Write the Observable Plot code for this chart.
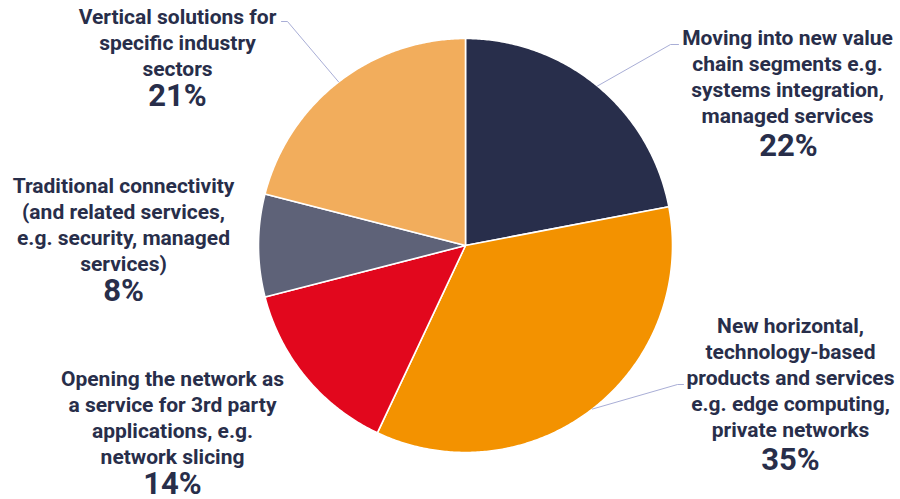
<!DOCTYPE html>
<html>
<head>
<meta charset="utf-8">
<script src="https://cdn.jsdelivr.net/npm/d3@7"></script>
<script src="https://cdn.jsdelivr.net/npm/@observablehq/plot@0.6"></script>
<style>
  html, body { margin: 0; padding: 0; background: #ffffff; }
  #chart svg { display: block; }
</style>
</head>
<body>
<div id="chart"></div>
<script>
// ---- Data ----
const categories = [
  "Moving into new value\nchain segments e.g.\nsystems integration,\nmanaged services",
  "New horizontal,\ntechnology-based\nproducts and services\ne.g. edge computing,\nprivate networks",
  "Opening the network as\na service for 3rd party\napplications, e.g.\nnetwork slicing",
  "Traditional connectivity\n(and related services,\ne.g. security, managed\nservices)",
  "Vertical solutions for\nspecific industry\nsectors"
];
const shares = [22, 35, 14, 8, 21];
const sliceColors = ["#282e4b", "#f39200", "#e2071d", "#5e6278", "#f2ad5c"];

// ---- Layout (pixel-like data space) ----
const W = 900, H = 499;
const cx = 465, cy = 245, R = 207;
// label block centres and percentage positions
const labelPos = [
  {x: 787, y: 75.5, px: 788, py: 146},
  {x: 790, y: 376.5, px: 790, py: 460},
  {x: 172, y: 416.5, px: 172, py: 484},
  {x: 123, y: 223.5, px: 123, py: 291},
  {x: 177, y: 41.5, px: 177, py: 96}
];
// leader elbows/ends (null = no leader)
const leaderPts = [
  [[670, 44], [678, 44]],
  [[677, 384], [683, 384]],
  null,
  null,
  [[287, 21], [281, 21]]
];

// ---- Geometry via d3.pie ----
const pie = d3.pie().sort(null).value(d => d)(shares);
const slicePts = [];
pie.forEach((a, i) => {
  slicePts.push({k: i, x: cx, y: cy});
  const n = Math.max(2, Math.ceil((a.endAngle - a.startAngle) / (Math.PI / 360)));
  for (let j = 0; j <= n; j++) {
    const t = a.startAngle + (a.endAngle - a.startAngle) * j / n;
    slicePts.push({k: i, x: cx + R * Math.sin(t), y: cy - R * Math.cos(t)});
  }
});

const leaders = [];
pie.forEach((a, i) => {
  if (!leaderPts[i]) return;
  const m = (a.startAngle + a.endAngle) / 2;
  leaders.push({k: i, x: cx + R * Math.sin(m), y: cy - R * Math.cos(m)});
  leaderPts[i].forEach(p => leaders.push({k: i, x: p[0], y: p[1]}));
});

const labels = categories.map((c, i) => ({
  text: c, pct: shares[i] + "%",
  x: labelPos[i].x, y: labelPos[i].y, px: labelPos[i].px, py: labelPos[i].py
}));

const chart = Plot.plot({
  width: W, height: H,
  margin: 0,
  x: {domain: [0, W], range: [0, W], axis: null},
  y: {domain: [0, H], range: [0, H], axis: null},
  color: {domain: d3.range(categories.length), range: sliceColors},
  style: {fontFamily: "Roboto, 'Noto Sans', sans-serif", background: "#ffffff"},
  marks: [
    Plot.line(slicePts, {x: "x", y: "y", z: "k", fill: "k", stroke: "#ffffff",
      strokeWidth: 1.6, curve: "linear-closed", strokeLinejoin: "round"}),
    Plot.line(leaders, {x: "x", y: "y", z: "k", stroke: "#a9aed6", strokeWidth: 1}),
    Plot.text(labels, {x: "x", y: "y", text: "text", fill: "#282e4a",
      fontSize: 21, fontWeight: 700, lineHeight: 1.24, textAnchor: "middle", lineAnchor: "middle"}),
    Plot.text(labels, {x: "px", y: "py", text: "pct", fill: "#282e4a",
      fontSize: 31, fontWeight: 700, textAnchor: "middle", lineAnchor: "middle"})
  ]
});
document.getElementById("chart").appendChild(chart);
</script>
</body>
</html>
